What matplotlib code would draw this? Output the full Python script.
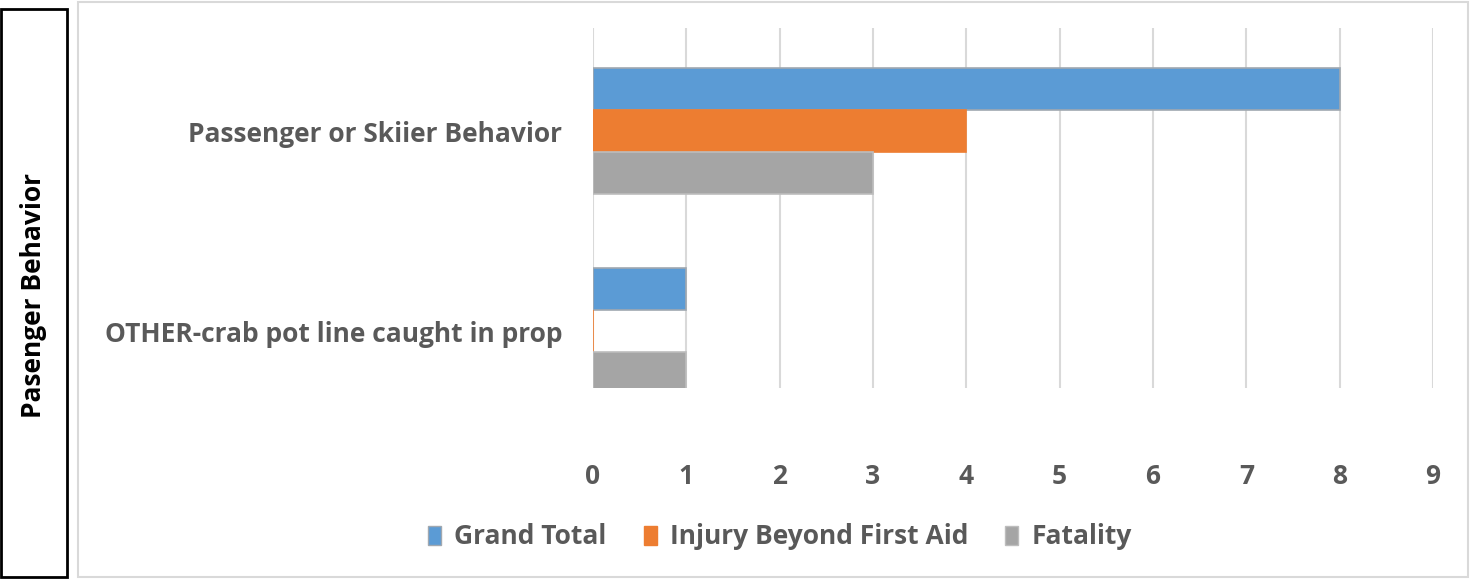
import matplotlib
matplotlib.use("Agg")
import matplotlib.pyplot as plt
import matplotlib.patches as mpatches
import numpy as np

categories = ["Passenger or Skiier Behavior", "OTHER-crab pot line caught in prop"]
series_names = ["Grand Total", "Injury Beyond First Aid", "Fatality"]
grand_total = [8, 1]
injury = [4, 0]
fatality = [3, 1]
x_ticks = list(range(0, 10))
group_label = "Pasenger Behavior"

COLORS = ["#5B9BD5", "#ED7D31", "#A5A5A5"]
EDGES = ["#A0A8B0", "#ED7D31", "#BDBDBD"]
TEXT_GRAY = "#595959"
FONT = "Open Sans"
FS = 19

W, H = 1470, 579
fig = plt.figure(figsize=(W / 100, H / 100), dpi=100)

# outer frames (drawn in figure pixel coords)
def px_rect(x0, y0, x1, y1, **kw):
    fig.patches.append(mpatches.Rectangle(
        (x0 / W, 1 - y1 / H), (x1 - x0) / W, (y1 - y0) / H,
        transform=fig.transFigure, fill=False, **kw))

px_rect(78, 2, 1468, 577, edgecolor="#D9D9D9", linewidth=1.5)
px_rect(1, 9, 67, 577, edgecolor="black", linewidth=2)
fig.text(34 / W, 1 - 295 / H, group_label, rotation=90, ha="center", va="center",
         fontsize=FS, fontweight="bold", color="black", family=FONT)

# plot area
ax = fig.add_axes([593 / W, 1 - 388 / H, (1433 - 593) / W, (388 - 28) / H])

bar_h = 0.21
y = np.arange(len(categories))
for i, (vals, name) in enumerate(zip([grand_total, injury, fatality], series_names)):
    ax.barh(y + (i - 1) * bar_h, vals, height=bar_h, color=COLORS[i],
            edgecolor=EDGES[i], linewidth=1.2, label=name, zorder=3)

ax.set_xlim(0, 9)
ax.set_ylim(1.285, -0.515)
ax.set_xticks(x_ticks)
ax.set_yticks(y)
ax.set_yticklabels(categories)
ax.grid(axis="x", color="#D9D9D9", linewidth=1.5, zorder=0)
for s in ax.spines.values():
    s.set_visible(False)
ax.tick_params(axis="both", length=0)
ax.tick_params(axis="x", pad=54, labelsize=FS, labelcolor=TEXT_GRAY)
ax.tick_params(axis="y", pad=22, labelsize=FS, labelcolor=TEXT_GRAY)
for lab in ax.get_xticklabels() + ax.get_yticklabels():
    lab.set_fontweight("bold")
    lab.set_family(FONT)

handles = [mpatches.Patch(facecolor=COLORS[i], edgecolor=EDGES[i], label=series_names[i])
           for i in range(3)]
fig.legend(handles=handles, loc="center", bbox_to_anchor=(780 / W, 1 - 537 / H), ncol=3,
           frameon=False, handlelength=0.5, handleheight=0.7, handletextpad=0.5,
           columnspacing=1.4,
           prop={"family": FONT, "weight": "bold", "size": FS})
for t in fig.legends[0].get_texts():
    t.set_color(TEXT_GRAY)

fig.savefig("out.png", dpi=100)
